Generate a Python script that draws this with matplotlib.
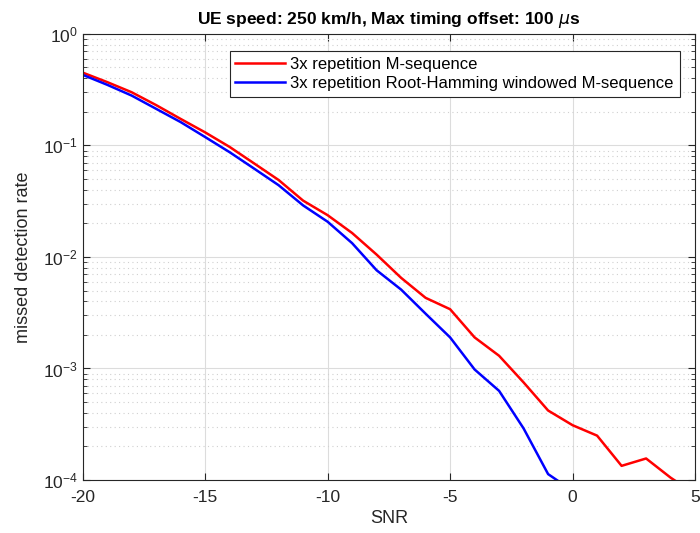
import matplotlib
matplotlib.use("Agg")
import matplotlib.pyplot as plt
from matplotlib.ticker import LogLocator, NullFormatter

plt.rcParams['font.family'] = ['Liberation Sans', 'DejaVu Sans']
plt.rcParams['axes.unicode_minus'] = False

# SNR (dB)
snr = list(range(-20, 6))
snr_blue = list(range(-20, 1))

# taux de non-detection
rate_mseq = [0.45, 0.37, 0.30, 0.23, 0.173, 0.131, 0.097, 0.069, 0.049, 0.032,
             0.0237, 0.0164, 0.0105, 0.0065, 0.0043, 0.0034, 0.0019, 0.0013,
             0.00075, 0.00042, 0.00031, 0.00025, 0.000134, 0.000156, 0.000105, 0.000075]
rate_hamming = [0.43, 0.35, 0.28, 0.213, 0.162, 0.119, 0.087, 0.062, 0.044, 0.029,
                0.0207, 0.0133, 0.0076, 0.0051, 0.0031, 0.0019, 0.00098, 0.00063,
                0.00029, 0.000113, 0.00008]

labels = ['3x repetition M-sequence',
          '3x repetition Root-Hamming windowed M-sequence']

fig = plt.figure(figsize=(7, 5.33), dpi=100)
ax = fig.add_axes([0.118, 0.0994, 0.875, 0.837])

ax.plot(snr, rate_mseq, color='#ff0000', linewidth=1.8, label=labels[0])
ax.plot(snr_blue, rate_hamming, color='#0000ff', linewidth=1.8, label=labels[1])

ax.set_yscale('log')
ax.set_xlim(-20, 5)
ax.set_ylim(1e-4, 1)
ax.set_xticks([-20, -15, -10, -5, 0, 5])
ax.yaxis.set_major_locator(LogLocator(base=10, numticks=10))
ax.yaxis.set_minor_locator(LogLocator(base=10, subs=range(2, 10), numticks=20))
ax.yaxis.set_minor_formatter(NullFormatter())

# grille style matlab
ax.grid(True, which='major', color='#dcdcdc', linestyle='-', linewidth=0.8)
ax.grid(True, which='minor', axis='y', color='#d0d0d0', linestyle=(0, (1, 3)), linewidth=0.8)
ax.set_axisbelow(True)

ax.tick_params(which='both', direction='in', top=True, right=True, colors='#262626',
               labelsize=12.5)
ax.tick_params(which='major', length=5)
ax.tick_params(which='minor', length=3)
ax.tick_params(axis='x', pad=7)
for sp in ax.spines.values():
    sp.set_color('#262626')
    sp.set_linewidth(0.8)

ax.set_xlabel('SNR', fontsize=13, color='#262626', labelpad=4)
ax.set_ylabel('missed detection rate', fontsize=13, color='#262626', labelpad=8)
ax.set_title(r'UE speed: 250 km/h, Max timing offset: 100 $\mu$s',
             fontsize=12.5, fontweight='bold', pad=7)

leg = ax.legend(loc='upper right', bbox_to_anchor=(0.971, 0.904),
                bbox_transform=fig.transFigure, fontsize=12, fancybox=False,
                framealpha=1, edgecolor='#262626', handlelength=3.0,
                borderpad=0.35, labelspacing=0.25, handletextpad=0.3,
                borderaxespad=0)
leg.get_frame().set_linewidth(0.8)

fig.savefig('out.png', dpi=100)
